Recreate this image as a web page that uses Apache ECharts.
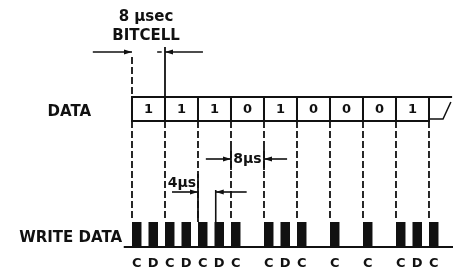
<!DOCTYPE html>
<html>
<head>
<meta charset="utf-8">
<script src="https://cdn.jsdelivr.net/npm/echarts@6/dist/echarts.min.js"></script>
<style>
  html, body { margin: 0; padding: 0; background: #fff; }
  #chart { width: 453px; height: 275px; }
</style>
</head>
<body>
<div id="chart"></div>
<script>
// time axis is in microseconds, one bitcell = 8 us
const cellEdges = [0, 8, 16, 24, 32, 40, 48, 56, 64, 72];
const dataBits = ["1", "1", "1", "0", "1", "0", "0", "0", "1"];
const pulseTimes = [0, 4, 8, 12, 16, 20, 24, 32, 36, 40, 48, 56, 64, 68, 72];
const pulseLabels = ["C", "D", "C", "D", "C", "D", "C", "C", "D", "C", "C", "C", "C", "D", "C"];

// dimension arrows: from -> to (us), arrow head at "to"
const bitcellArrows = [[-9.5, 0], [17.2, 8]];
const gap8Arrows = [[17.9, 24], [37.6, 32]];
const gap4Arrows = [[9.7, 16], [27.8, 20.3]];

const INK = "#111";
const FONT = "'DejaVu Sans', sans-serif";
const BIT_US = 8;
const PULSE_W = 2.3;

// vertical layout rows (diagram units, top = 0)
const ROW = {
  title1: 17, title2: 36, cellArrow: 52,
  boxTop: 97, boxMid: 109, boxBottom: 121,
  arrow8: 159, text4: 183, arrow4: 192,
  pulseTop: 222, base: 247, labels: 264
};

function txt(p, text, size, align) {
  return {
    type: "text",
    style: {
      x: p[0], y: p[1], text: text, fill: INK,
      font: "bold " + size + "px " + FONT,
      align: align || "center", verticalAlign: "middle"
    }
  };
}

function seg(a, b, width, dash) {
  return {
    type: "line",
    shape: { x1: a[0], y1: a[1], x2: b[0], y2: b[1] },
    style: { stroke: INK, lineWidth: width, lineDash: dash || null }
  };
}

function arrow(api, from, to, row) {
  const a = api.coord([from, row]);
  const b = api.coord([to, row]);
  const dir = b[0] > a[0] ? 1 : -1;
  return [
    seg(a, b, 1.6),
    {
      type: "polygon",
      shape: { points: [b, [b[0] - dir * 8, b[1] - 2.5], [b[0] - dir * 8, b[1] + 2.5]] },
      style: { fill: INK }
    }
  ];
}

const chart = echarts.init(document.getElementById("chart"));

chart.setOption({
  animation: false,
  backgroundColor: "#fff",
  grid: { left: 0, right: 0, top: 0, bottom: 0 },
  xAxis: { type: "value", min: -32, max: 77.82, show: false },
  yAxis: { type: "value", min: 0, max: 275, inverse: true, show: false },
  series: [
    {
      // DATA row
      type: "custom", silent: true, clip: false,
      data: dataBits.map((b, i) => [cellEdges[i], ROW.boxMid]),
      renderItem(params, api) {
        const t = api.value(0);
        const p0 = api.coord([t, ROW.boxTop]);
        const p1 = api.coord([t + BIT_US, ROW.boxBottom]);
        const kids = [
          {
            type: "rect",
            shape: { x: p0[0], y: p0[1], width: p1[0] - p0[0], height: p1[1] - p0[1] },
            style: { fill: "none", stroke: INK, lineWidth: 2 }
          },
          txt(api.coord([t + BIT_US / 2, ROW.boxMid + 1]), dataBits[params.dataIndex], 13)
        ];
        if (params.dataIndex === dataBits.length - 1) {
          // broken-off next cell
          const e = t + BIT_US;
          kids.push(seg(api.coord([e, ROW.boxTop]), api.coord([e + 5.6, ROW.boxTop]), 2));
          kids.push({
            type: "polyline",
            shape: { points: [api.coord([e, ROW.boxBottom - 2]), api.coord([e + 3.4, ROW.boxBottom - 2]), api.coord([e + 5.3, ROW.boxTop + 5])] },
            style: { fill: "none", stroke: INK, lineWidth: 1.5 }
          });
        }
        return { type: "group", children: kids };
      }
    },
    {
      // cell boundary guide lines
      type: "custom", silent: true, clip: false,
      data: cellEdges.map(t => [t, ROW.boxBottom]),
      renderItem(params, api) {
        const t = api.value(0);
        const kids = [seg(api.coord([t, ROW.boxBottom]), api.coord([t, ROW.pulseTop - 1]), 1.8, [7, 3])];
        if (t === 0) kids.push(seg(api.coord([t, 57]), api.coord([t, ROW.boxTop]), 1.8, [7, 3]));
        if (t === 8) kids.push(seg(api.coord([t, 47]), api.coord([t, ROW.boxTop]), 1.8));
        if (t === 16) kids.push(seg(api.coord([t, 174]), api.coord([t, ROW.pulseTop]), 1.8));
        if (t === 24 || t === 32) kids.push(seg(api.coord([t, 148]), api.coord([t, 170]), 1.8));
        return { type: "group", children: kids };
      }
    },
    {
      // WRITE DATA pulses
      type: "custom", silent: true, clip: false,
      data: pulseTimes.map(t => [t, ROW.base]),
      renderItem(params, api) {
        const t = api.value(0);
        const p0 = api.coord([t, ROW.pulseTop]);
        const p1 = api.coord([t + PULSE_W, ROW.base]);
        return {
          type: "group",
          children: [
            {
              type: "rect",
              shape: { x: p0[0], y: p0[1], width: p1[0] - p0[0], height: p1[1] - p0[1] },
              style: { fill: INK }
            },
            txt(api.coord([t + PULSE_W / 2, ROW.labels]), pulseLabels[params.dataIndex], 13)
          ]
        };
      }
    },
    {
      // baseline
      type: "line", silent: true, symbol: "none",
      lineStyle: { color: INK, width: 2 },
      data: [[-2, ROW.base], [77.82, ROW.base]]
    },
    {
      // dimension arrows and labels
      type: "custom", silent: true, clip: false,
      data: [[0, 0]],
      renderItem(params, api) {
        let kids = [];
        bitcellArrows.forEach(a => { kids = kids.concat(arrow(api, a[0], a[1], ROW.cellArrow)); });
        gap8Arrows.forEach(a => { kids = kids.concat(arrow(api, a[0], a[1], ROW.arrow8)); });
        gap4Arrows.forEach(a => { kids = kids.concat(arrow(api, a[0], a[1], ROW.arrow4)); });
        kids.push(seg(api.coord([6.1, ROW.cellArrow]), api.coord([7.2, ROW.cellArrow]), 1.5));
        kids.push(seg(api.coord([20.3, 190]), api.coord([20.3, ROW.pulseTop]), 1.6));
        kids.push(txt(api.coord([3.4, ROW.title1]), "8 μsec", 15));
        kids.push(txt(api.coord([3.4, ROW.title2]), "BITCELL", 15));
        kids.push(txt(api.coord([28, ROW.arrow8]), "8μs", 14));
        kids.push(txt(api.coord([12.1, ROW.text4]), "4μs", 14));
        kids.push(txt(api.coord([-9.9, 112]), "DATA", 15, "right"));
        kids.push(txt(api.coord([-2.4, 238]), "WRITE DATA", 15, "right"));
        return { type: "group", children: kids };
      }
    }
  ]
});

window.addEventListener("resize", () => chart.resize());
</script>
</body>
</html>
